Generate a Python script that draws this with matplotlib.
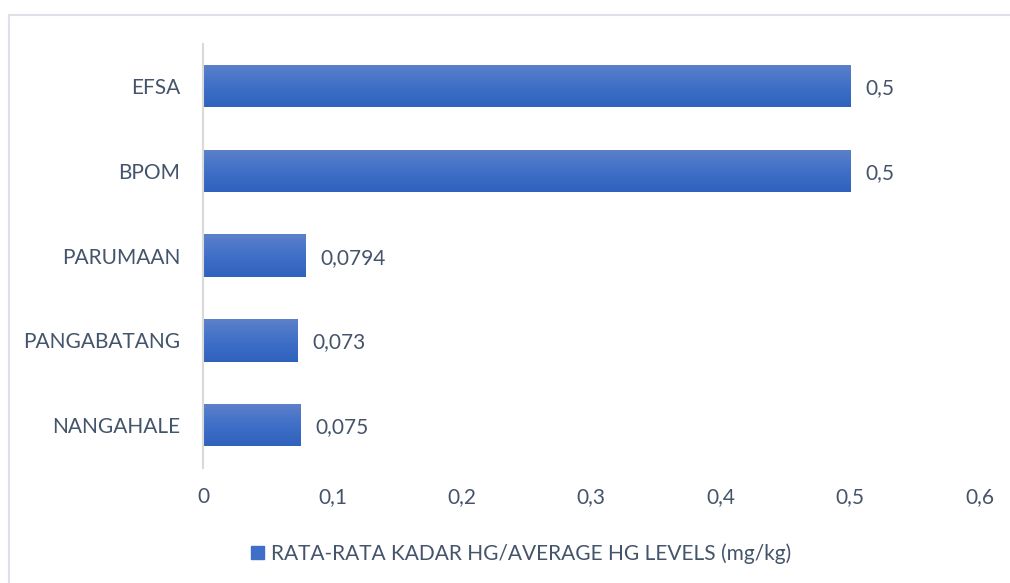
import matplotlib.pyplot as plt
import matplotlib.patches as mpatches
from matplotlib.colors import LinearSegmentedColormap
import numpy as np

categories = ["NANGAHALE", "PANGABATANG", "PARUMAAN", "BPOM", "EFSA"]
values = [0.075, 0.073, 0.0794, 0.5, 0.5]
labels = ["0,075", "0,073", "0,0794", "0,5", "0,5"]
series_name = "RATA-RATA KADAR HG/AVERAGE HG LEVELS (mg/kg)"
xticks = [0, 0.1, 0.2, 0.3, 0.4, 0.5, 0.6]

txt = "#44546a"
plt.rcParams['font.family'] = ['Lato', 'DejaVu Sans']

fig = plt.figure(figsize=(10.1, 5.83), dpi=100)
ax = fig.add_axes([0.201, 0.198, 0.769, 0.727])

y = np.arange(len(categories))
bars = ax.barh(y, values, height=0.5, color="#3f6fc8")

# vertical gradient inside each bar
grad = np.linspace(0, 1, 64).reshape(-1, 1)
cmap = LinearSegmentedColormap.from_list("g", ["#2f62bd", "#4070c8", "#5d80ca"])
for b in bars:
    x0, y0 = b.get_x(), b.get_y()
    w, h = b.get_width(), b.get_height()
    im = ax.imshow(grad, extent=[x0, x0 + w, y0, y0 + h], origin="lower",
                   cmap=cmap, aspect="auto", zorder=2)
    im.set_clip_path(b)

for yi, v, l in zip(y, values, labels):
    ax.annotate(l, (v, yi), xytext=(15, -2), textcoords="offset pixels",
                va="center", ha="left", fontsize=15, color=txt)

ax.set_xlim(0, 0.6)
ax.set_ylim(-0.5, len(categories) - 0.5)
ax.set_yticks(y)
ax.set_yticklabels(categories)
ax.set_xticks(xticks)
ax.set_xticklabels([str(t).replace(".", ",") if t else "0" for t in xticks])
ax.tick_params(length=0, labelsize=15, colors=txt)
ax.tick_params(axis="x", pad=14)
ax.tick_params(axis="y", pad=16.5)
for s in ["top", "right", "bottom"]:
    ax.spines[s].set_visible(False)
ax.spines["left"].set_color("#d9d9d9")
ax.spines["left"].set_linewidth(1.5)

handle = mpatches.Patch(color="#3f6fc8")
fig.legend([handle], [series_name], loc="center", bbox_to_anchor=(0.516, 0.05),
           frameon=False, fontsize=15, handlelength=0.6, handleheight=0.6,
           handletextpad=0.35, labelcolor=txt)

fig.patches.append(mpatches.Rectangle((0.009, -0.05), 1.1, 1.024, transform=fig.transFigure,
                                      fill=False, edgecolor="#dfe0e8", linewidth=1.5))

fig.savefig("out.png", dpi=100)
